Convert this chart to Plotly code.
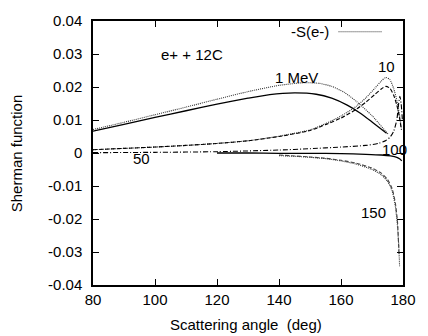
import plotly.graph_objects as go

# Sherman function for e+ / e- scattering on 12C versus scattering angle (deg)

# 1 MeV
ang_1_pos = [80, 90, 100, 110, 120, 130, 137, 145, 152, 157, 162, 166, 170, 174.7]
s_1_pos = [0.0066, 0.0087, 0.0108, 0.0128, 0.0148, 0.0166, 0.0177, 0.0182, 0.0178, 0.0166, 0.0145, 0.0122, 0.0094, 0.0060]
ang_1_ele = [80, 90, 100, 110, 120, 130, 140, 148, 153, 157, 161, 165, 170, 175.3]
s_1_ele = [0.0071, 0.0093, 0.0116, 0.0139, 0.0163, 0.0186, 0.0205, 0.0213, 0.0211, 0.0202, 0.0184, 0.0156, 0.0113, 0.0056]

# 10 MeV
ang_10 = [80, 90, 100, 110, 120, 130, 140, 150, 155, 160, 165, 168, 171, 173, 174.5, 175.8, 177, 178, 178.8, 179.5]
s_10_pos = [0.0010, 0.0014, 0.0018, 0.0023, 0.0029, 0.0037, 0.0050, 0.0068, 0.0086, 0.0106, 0.0133, 0.0154, 0.0178, 0.0194, 0.0202, 0.0196, 0.0175, 0.0145, 0.0110, 0.0070]
s_10_ele = [0.0010, 0.0014, 0.0018, 0.0023, 0.0029, 0.0037, 0.0051, 0.0070, 0.0089, 0.0112, 0.0142, 0.0167, 0.0197, 0.0218, 0.0229, 0.0222, 0.0195, 0.0160, 0.0120, 0.0075]

# 50 MeV
ang_50 = [80, 100, 120, 140, 150, 160, 168, 172, 174.5, 176, 177, 178, 178.6, 179.0, 179.4, 179.8]
s_50_pos = [0.0001, 0.0002, 0.0004, 0.0009, 0.0013, 0.0018, 0.0023, 0.0029, 0.0038, 0.0050, 0.0066, 0.0100, 0.0150, 0.0172, 0.0150, 0.0100]

# 100 MeV
ang_100 = [120, 130, 140, 150, 160, 168, 173, 176, 178, 179, 179.6]
s_100_pos = [0.0000, 0.0000, -0.0001, -0.0001, -0.0002, -0.0004, -0.0006, -0.0009, -0.0013, -0.0018, -0.0024]

# 150 MeV
ang_150_pos = [140, 145, 150, 155, 160, 165, 170, 173, 175, 176.5, 177.5, 178.2, 178.7]
s_150_pos = [-0.0006, -0.0009, -0.0012, -0.0016, -0.0022, -0.0031, -0.0046, -0.0061, -0.0080, -0.0108, -0.0150, -0.0205, -0.0305]
ang_150_ele = [140, 145, 150, 155, 160, 165, 170, 173, 175, 176.5, 177.5, 178.2, 178.6, 178.9]
s_150_ele = [-0.0008, -0.0010, -0.0013, -0.0017, -0.0024, -0.0034, -0.0050, -0.0066, -0.0086, -0.0115, -0.0160, -0.0220, -0.0275, -0.0343]

x_ticks = [80, 100, 120, 140, 160, 180]
y_ticks = [-0.04, -0.03, -0.02, -0.01, 0, 0.01, 0.02, 0.03, 0.04]
y_tick_text = ["-0.04", "-0.03", "-0.02", "-0.01", "0", "0.01", "0.02", "0.03", "0.04"]

FONT = "Liberation Sans, Arial, Helvetica, sans-serif"
DOT = "1px,1px"
DASH = "4px,2px"
DASHDOT = "5px,2px,1px,2px"

fig = go.Figure()


def curve(x, y, dash, width=1.1, color="black"):
    fig.add_trace(go.Scatter(
        x=x, y=y, mode="lines",
        line=dict(color=color, width=width, dash=dash, shape="spline", smoothing=0.6),
        showlegend=False, hoverinfo="skip",
    ))


curve(ang_1_ele, s_1_ele, DOT, color="#333")
curve(ang_1_pos, s_1_pos, "solid", width=1.3)
curve(ang_10, s_10_ele, DOT, color="#333")
curve(ang_10, s_10_pos, DASH)
curve(ang_50, s_50_pos, DASHDOT)
curve(ang_100, s_100_pos, "solid", width=1.3)
curve(ang_150_ele, s_150_ele, DOT, color="#333")
curve(ang_150_pos, s_150_pos, DASH, color="#444")

labels = [
    ("e+ + 12C", 101.2, 0.0299, "left"),
    ("1 MeV", 145.5, 0.0228, "center"),
    ("10", 174.8, 0.0263, "center"),
    ("100", 177.2, 0.0012, "center"),
    ("50", 95.8, -0.0018, "center"),
    ("150", 170.5, -0.0179, "center"),
]
for txt, xa, ya, anchor in labels:
    fig.add_annotation(x=xa, y=ya, text=txt, showarrow=False, xanchor=anchor,
                       yanchor="middle", font=dict(size=15, color="black", family=FONT))

# key for the dotted e- curves
fig.add_annotation(x=0.767, y=0.959, xref="paper", yref="paper", text="-S(e-)",
                   showarrow=False, xanchor="right", yanchor="middle",
                   font=dict(size=15, color="black", family=FONT))
fig.add_shape(type="line", xref="paper", yref="paper", x0=0.792, x1=0.934, y0=0.959, y1=0.959,
              line=dict(color="#333", width=1.1, dash=DOT))

# axis titles
fig.add_annotation(x=0.495, y=-0.151, xref="paper", yref="paper", text="Scattering angle\u00a0 (deg)",
                   showarrow=False, xanchor="center", yanchor="middle",
                   font=dict(size=15, color="black", family=FONT))
fig.add_annotation(x=-0.246, y=0.498, xref="paper", yref="paper", text="Sherman function",
                   showarrow=False, xanchor="center", yanchor="middle", textangle=-90,
                   font=dict(size=15, color="black", family=FONT))

axis_common = dict(showline=True, linecolor="black", linewidth=1.5, mirror="allticks",
                   ticks="inside", ticklen=6, tickwidth=1, tickcolor="black",
                   showgrid=False, zeroline=False,
                   tickfont=dict(size=15, color="black", family=FONT))

fig.update_xaxes(range=[80, 180], tickvals=x_ticks, ticklabelstandoff=0, **axis_common)
fig.update_yaxes(range=[-0.04, 0.04], tickvals=y_ticks, ticktext=y_tick_text,
                 ticklabelstandoff=6, **axis_common)

fig.update_layout(
    width=428, height=336,
    margin=dict(l=93, r=18, t=14, b=51, pad=0),
    plot_bgcolor="white", paper_bgcolor="white",
    font=dict(family=FONT, size=15, color="black"),
)

fig.write_html("out.html")
